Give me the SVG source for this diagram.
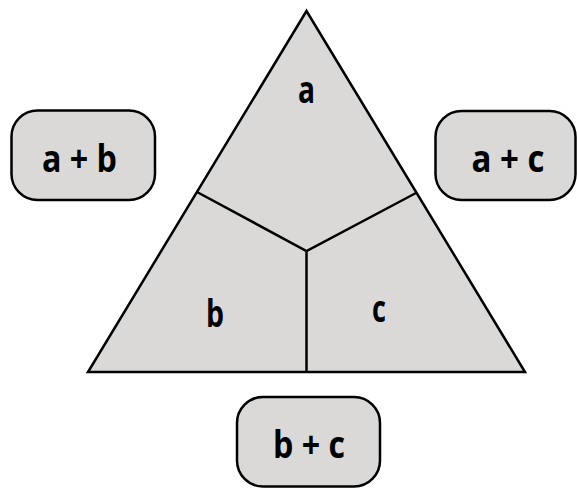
<svg xmlns="http://www.w3.org/2000/svg" width="577" height="488" viewBox="0 0 577 488">
<style>
.shape{fill:#dad9d8;stroke:#000;stroke-width:2.5;stroke-linejoin:miter}
.line{fill:none;stroke:#000;stroke-width:2.5}
.lbl{font-family:"Open Sans","DejaVu Sans",sans-serif;font-weight:bold;font-size:37px;fill:#000;text-anchor:middle}
</style>
<rect width="577" height="488" fill="#fff"/>
<g id="triangle">
<polygon class="shape" points="306.5,11 88,372 525,372"/>
</g>
<g id="connectors">
<path class="line" d="M197,192 L306.5,251 L416,193 M306.5,251 L306.5,372"/>
</g>
<g id="region-a"><text class="lbl" x="306.5" y="103" textLength="17" lengthAdjust="spacingAndGlyphs">a</text></g>
<g id="region-b"><text class="lbl" x="215" y="327" textLength="18" lengthAdjust="spacingAndGlyphs">b</text></g>
<g id="region-c"><text class="lbl" x="379" y="322" textLength="14" lengthAdjust="spacingAndGlyphs">c</text></g>
<g id="box-ab">
<rect class="shape" x="11.5" y="110.5" width="143.5" height="89.5" rx="26"/>
<text class="lbl" x="79.5" y="172" textLength="75" lengthAdjust="spacingAndGlyphs">a + b</text>
</g>
<g id="box-ac">
<rect class="shape" x="435.5" y="111" width="140" height="89" rx="26"/>
<text class="lbl" x="508" y="172" textLength="73" lengthAdjust="spacingAndGlyphs">a + c</text>
</g>
<g id="box-bc">
<rect class="shape" x="237" y="397" width="143" height="89.5" rx="26"/>
<text class="lbl" x="309" y="458" textLength="72" lengthAdjust="spacingAndGlyphs">b + c</text>
</g>
</svg>
